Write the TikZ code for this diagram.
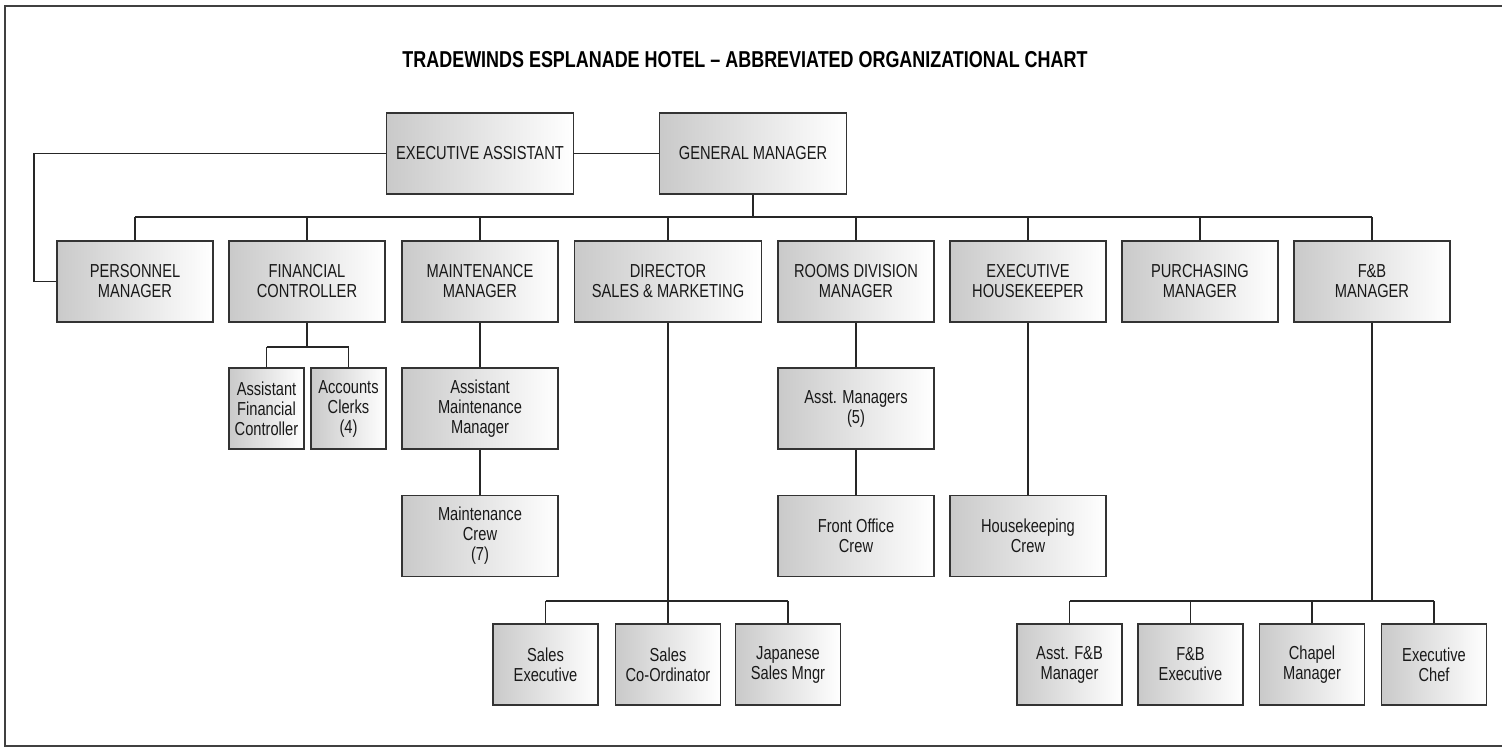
\documentclass[tikz,border=0pt]{standalone}
\usepackage{fontspec}
\setmainfont{Liberation Sans}[FakeStretch=0.78]
\newfontfamily\titlefont{Liberation Sans}[FakeStretch=0.78]
\usetikzlibrary{calc}
\begin{document}
\begin{tikzpicture}[x=1pt,y=-1pt,
  orgbox/.style={draw=black!80, line width=1.4pt, left color=black!21, right color=white,
    align=center, inner sep=0pt, minimum height=81pt, text=black!90, font=\fontsize{18.8}{20}\selectfont},
  wbox/.style={orgbox, minimum width=156pt},
  widebox/.style={orgbox, minimum width=187pt},
  sbox/.style={orgbox, minimum width=105pt},
  nbox/.style={orgbox, minimum width=75pt},
  link/.style={draw=black!85, line width=1.4pt}]
\useasboundingbox (0,0) rectangle (1502,748);
\draw[black!75, line width=1.6pt] (1502,6) -- (5,6) -- (5,746) -- (1502,746);
\node[font=\titlefont\bfseries\fontsize{23}{26}\selectfont] (title) at (745,60) {TRADEWINDS ESPLANADE HOTEL – ABBREVIATED ORGANIZATIONAL CHART};
% top
\node[widebox] (ea) at (480,153.5) {EXECUTIVE ASSISTANT};
\node[widebox] (gm) at (753,153.5) {GENERAL MANAGER};
% row 1
\node[wbox] (pers) at (135,281.5) {PERSONNEL\\MANAGER};
\node[wbox] (fc) at (307,281.5) {FINANCIAL\\CONTROLLER};
\node[wbox] (mm) at (480,281.5) {MAINTENANCE\\MANAGER};
\node[widebox] (dir) at (668,281.5) {DIRECTOR\\SALES \& MARKETING};
\node[wbox] (rdm) at (856,281.5) {ROOMS DIVISION\\MANAGER};
\node[wbox] (eh) at (1028,281.5) {EXECUTIVE\\HOUSEKEEPER};
\node[wbox] (pm) at (1200,281.5) {PURCHASING\\MANAGER};
\node[wbox] (fb) at (1372,281.5) {F\&B\\MANAGER};
% row 2
\node[nbox] (afc) at (266.5,408.5) {Assistant\\Financial\\Controller};
\node[nbox] (ac) at (348.5,408.5) {Accounts\\Clerks\\(4)};
\node[wbox] (amm) at (480,408.5) {Assistant\\Maintenance\\Manager};
\node[wbox] (am) at (856,408.5) {Asst. Managers\\(5)};
% row 3
\node[wbox] (mc) at (480,536) {Maintenance\\Crew\\(7)};
\node[wbox] (foc) at (856,536) {Front Office\\Crew};
\node[wbox] (hc) at (1028,536) {Housekeeping\\Crew};
% row 4
\node[sbox] (se) at (545.5,664.5) {Sales\\Executive};
\node[sbox] (sc) at (668,664.5) {Sales\\Co-Ordinator};
\node[sbox] (jsm) at (788,664.5) {Japanese\\Sales Mngr};
\node[sbox] (afb) at (1069.5,664.5) {Asst. F\&B\\Manager};
\node[sbox] (fbe) at (1190.5,664.5) {F\&B\\Executive};
\node[sbox] (cm) at (1312,664.5) {Chapel\\Manager};
\node[sbox] (ec) at (1434,664.5) {Executive\\Chef};
% helper coordinates
\coordinate (lp) at (34,0);
\coordinate (bus) at (0,217);
\coordinate (fcb) at (0,347);
\coordinate (low) at (0,601);
% connectors
\draw[link] (ea.east) -- (gm.west);
\draw[link] (ea.west) -- (ea.west -| lp) -- (lp |- pers.west) -- (pers.west);
\draw[link] (gm.south) -- (gm.south |- bus);
\draw[link] (pers.north |- bus) -- (fb.north |- bus);
\foreach \n in {pers,fc,mm,dir,rdm,eh,pm,fb}
  \draw[link] (\n.north) -- (\n.north |- bus);
\draw[link] (fc.south) -- (fc.south |- fcb);
\draw[link] (afc.north |- fcb) -- (ac.north |- fcb);
\draw[link] (afc.north) -- (afc.north |- fcb);
\draw[link] (ac.north) -- (ac.north |- fcb);
\draw[link] (mm.south) -- (amm.north);
\draw[link] (amm.south) -- (mc.north);
\draw[link] (rdm.south) -- (am.north);
\draw[link] (am.south) -- (foc.north);
\draw[link] (eh.south) -- (hc.north);
\draw[link] (dir.south) -- (sc.north);
\draw[link] (se.north |- low) -- (jsm.north |- low);
\draw[link] (se.north) -- (se.north |- low);
\draw[link] (jsm.north) -- (jsm.north |- low);
\draw[link] (fb.south) -- (fb.south |- low);
\draw[link] (afb.north |- low) -- (ec.north |- low);
\foreach \n in {afb,fbe,cm,ec}
  \draw[link] (\n.north) -- (\n.north |- low);
\end{tikzpicture}
\end{document}
